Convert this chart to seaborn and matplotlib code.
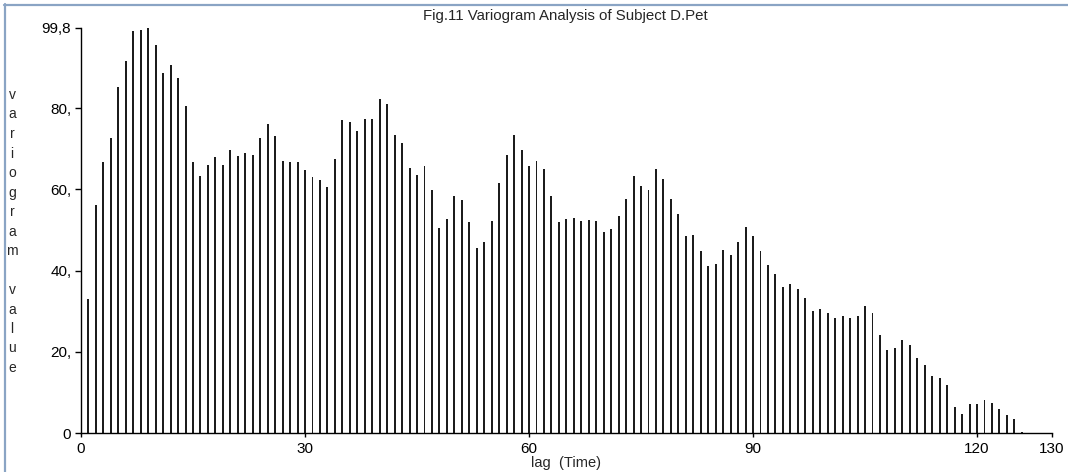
import numpy as np
import pandas as pd
import matplotlib
matplotlib.use("Agg")
import matplotlib.pyplot as plt
from matplotlib.lines import Line2D
import seaborn as sns

# Variogram values for lags 1..126
lags = list(range(1, 127))
variogram = [
    33.0, 56.2, 66.7, 72.7, 85.1, 91.5, 98.9, 99.2, 99.8, 95.6,
    88.6, 90.5, 87.5, 80.4, 66.7, 63.3, 65.9, 68.0, 65.9, 69.6,
    68.3, 69.0, 68.4, 72.7, 76.1, 73.1, 67.0, 66.7, 66.7, 64.7,
    63.0, 62.3, 60.5, 67.4, 77.1, 76.7, 74.4, 77.4, 77.4, 82.2,
    81.1, 73.4, 71.4, 65.3, 63.6, 65.7, 59.9, 50.5, 52.6, 58.3,
    57.3, 51.9, 45.5, 47.1, 52.2, 61.6, 68.4, 73.4, 69.7, 65.7,
    67.0, 65.0, 58.3, 51.9, 52.6, 52.9, 52.2, 52.5, 52.2, 49.5,
    50.2, 53.5, 57.6, 63.3, 60.9, 59.9, 64.9, 62.6, 57.6, 53.9,
    48.5, 48.8, 44.8, 41.1, 41.7, 45.1, 43.8, 47.1, 50.8, 48.5,
    44.8, 41.4, 39.1, 36.1, 36.7, 35.4, 33.4, 30.0, 30.7, 29.6,
    28.3, 28.9, 28.3, 28.9, 31.3, 29.6, 24.3, 20.5, 20.9, 23.0,
    21.6, 18.5, 16.8, 14.1, 13.5, 12.0, 6.4, 4.7, 7.1, 7.1,
    8.1, 7.4, 6.1, 4.4, 3.4, 0.4,
]

x_ticks = [0, 30, 60, 90, 120, 130]
y_ticks = [0, 20, 40, 60, 80, 99.8]
y_tick_labels = ["0", "20,", "40,", "60,", "80,", "99,8"]

title = "Fig.11 Variogram Analysis of Subject D.Pet"
x_label = "lag  (Time)"
y_label = "variogram value"

sns.set_style("white")
plt.rcParams["font.family"] = ["Liberation Sans", "DejaVu Sans"]
plt.rcParams["font.size"] = 10

df = pd.DataFrame({"lag": lags, "value": variogram})

fig = plt.figure(figsize=(10.68, 4.72), dpi=100)
ax = fig.add_axes([0.07584, 0.08199, 0.90890, 0.85953])

sns.barplot(data=df, x="lag", y="value", native_scale=True, orient="x",
            width=0.26, color="#1c1c1c", saturation=1, errorbar=None,
            linewidth=0, ax=ax)

ax.set_xlim(0, 130)
ax.set_ylim(0, 99.8)
ax.set_xticks(x_ticks)
ax.set_xticklabels([str(t) for t in x_ticks])
ax.set_yticks(y_ticks)
ax.set_yticklabels(y_tick_labels)
ax.tick_params(axis="x", bottom=True, direction="out", length=3, width=1,
               pad=3.5, colors="black", labelsize=11)
ax.tick_params(axis="y", left=True, direction="out", length=4, width=1,
               pad=3, colors="black", labelsize=11)
for side in ("top", "right"):
    ax.spines[side].set_visible(False)
for side in ("left", "bottom"):
    ax.spines[side].set_color("black")
    ax.spines[side].set_linewidth(1)

ax.set_xlabel(x_label, labelpad=0, fontsize=10.5)
ax.set_ylabel("")

# Title across the top
fig.text(0.529, 1 - 16 / 472, title, ha="center", va="center", fontsize=10.8)

# Vertical stacked axis label, one character per line
stacked = "\n".join(list(y_label.replace(" ", "  ").replace("  ", " ")))
fig.text(12 / 1068, 1 - 231.5 / 472, stacked, ha="center", va="center",
         fontsize=10, linespacing=1.5)

# Window frame lines on the top and left edges
frame_color = "#8aa4c4"
fig.add_artist(Line2D([0.004, 1.0], [1 - 5 / 472, 1 - 5 / 472],
                      transform=fig.transFigure, color=frame_color, lw=1.6))
fig.add_artist(Line2D([5.5 / 1068, 5.5 / 1068], [0.0, 1 - 4 / 472],
                      transform=fig.transFigure, color=frame_color, lw=1.6))

fig.savefig("out.png", dpi=100, facecolor="white")
